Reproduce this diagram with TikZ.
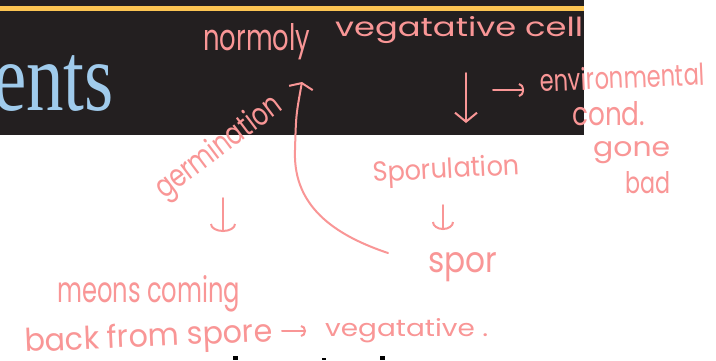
\documentclass[tikz,border=0pt]{standalone}
\usepackage{fontspec}
\usepackage{graphicx}
\usetikzlibrary{arrows.meta}
\newfontfamily\handfont{Poppins}
\newfontfamily\slidefont{Liberation Serif}
\definecolor{slateband}{RGB}{35,31,32}
\definecolor{rulegold}{RGB}{251,196,82}
\definecolor{titleblue}{RGB}{160,203,236}
\definecolor{inkpink}{RGB}{249,150,150}
\newcommand{\scrawl}[3]{\resizebox{#1pt}{#2pt}{\handfont #3}}

\begin{document}
\begin{tikzpicture}[x=1pt, y=-1pt, line cap=round, line join=round,
  ink/.style={inkpink, line width=2pt},
  note/.style={text=inkpink, anchor=base west, inner sep=0pt}]

\useasboundingbox (0,0) rectangle (716,360);
\fill[white] (0,0) rectangle (716,360);

% ---------- slide header ----------
\fill[slateband] (0,0) rectangle (584,135);
\fill[rulegold] (0,6) rectangle (584,11);
\node[anchor=base west, inner sep=0pt, text=titleblue,
  font=\slidefont\fontsize{75}{80}\selectfont] (heading) at (-7,110)
  {\scalebox{1}[1.3]{ents}};

% ---------- notes ----------
\node[note] (normoly) at (203,50) {\scrawl{107}{27}{normoly}};
\node[note] (vegcell) at (335,36) {\scrawl{248}{20}{vegatative cell}};
\node[note, rotate=2.5] (environ) at (540,92) {\scrawl{165}{23}{environmental}};
\node[note] (cond) at (572,125) {\scrawl{73}{24}{cond.}};
\node[note] (gone) at (593,156) {\scrawl{77}{15}{gone}};
\node[note] (bad) at (625,193) {\scrawl{45}{22}{bad}};
\node[note, rotate=3] (sporul) at (373,182) {\scrawl{147}{21}{Sporulation}};
\node[note] (spor) at (428,272) {\scrawl{69}{20}{spor}};
\node[note, rotate=37] (germ) at (164,200) {\scrawl{150}{24}{germination}};
\node[note] (meons) at (57,302) {\scrawl{183}{27}{meons coming}};
\node[note, rotate=2.5] (backfrom) at (25,352) {\scrawl{248}{24}{back from spore}};
\node[note] (vegback) at (325,336) {\scrawl{163}{18}{vegatative .}};

% ---------- arrows ----------
\coordinate (celltail) at (466,73);
\coordinate (celltip) at (466,123);
\draw[ink, -{Straight Barb[length=9pt,width=22pt]}] (celltail) -- (celltip);

\coordinate (envtail) at (493,90);
\coordinate (envtip) at (524,90);
\draw[ink, -{Arc Barb[length=5pt,width=14pt]}] (envtail) -- (envtip);

\coordinate (sporultail) at (443,205);
\coordinate (sporultip) at (443,230);
\draw[ink, -{Arc Barb[length=8pt,width=22pt]}] (sporultail) -- (sporultip);

\coordinate (germtail) at (223,198);
\coordinate (germtip) at (223,232);
\draw[ink, -{Arc Barb[length=8pt,width=26pt]}] (germtail) -- (germtip);

\coordinate (backtail) at (282,331);
\coordinate (backtip) at (306,331);
\draw[ink, -{Arc Barb[length=5pt,width=12pt]}] (backtail) -- (backtip);

\coordinate (sportail) at (388,253);
\coordinate (normtip) at (302,82);
\draw[ink, -{Straight Barb[length=5pt,width=24pt]}] (sportail)
  .. controls (325,232) and (293,200) .. (295,150)
  .. controls (296,115) .. (normtip);

% ---------- cut-off slide text ----------
\fill[black] (233,356) rectangle (238,360);
\fill[black] (322,358) rectangle (326,360);
\fill[black] (380,356) rectangle (385,360);

\end{tikzpicture}
\end{document}
